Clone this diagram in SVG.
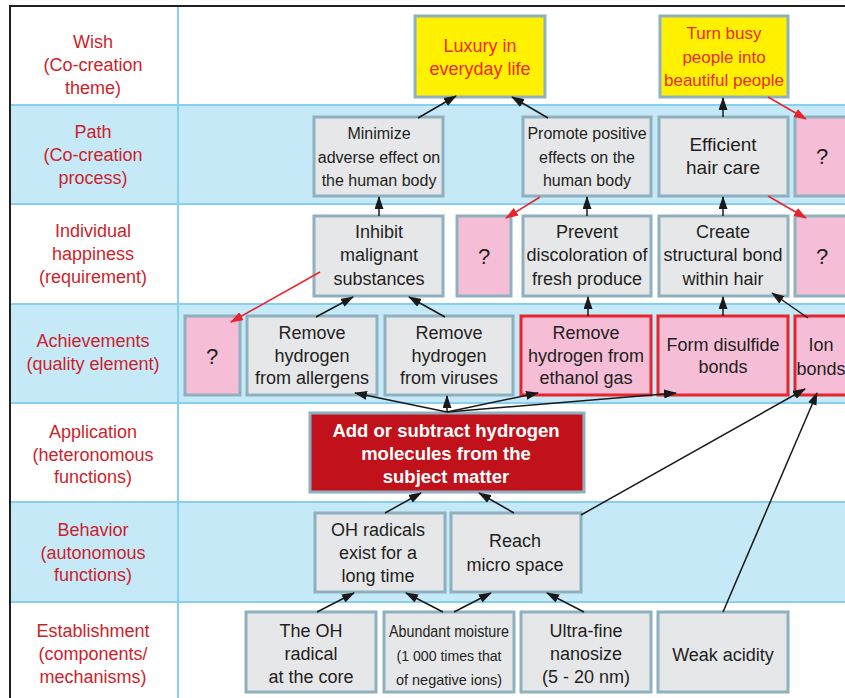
<svg xmlns="http://www.w3.org/2000/svg" width="845" height="698" viewBox="0 0 845 698">
  <defs>
    <marker id="ah" markerUnits="userSpaceOnUse" markerWidth="13" markerHeight="9" refX="12" refY="4.5" orient="auto">
      <path d="M0,0 L13,4.5 L0,9 z" fill="#1a1a1a"/>
    </marker>
    <marker id="ahr" markerUnits="userSpaceOnUse" markerWidth="13" markerHeight="9" refX="12" refY="4.5" orient="auto">
      <path d="M0,0 L13,4.5 L0,9 z" fill="#e8242c"/>
    </marker>
    <style>
      text { font-family: "Liberation Sans", Arial, sans-serif; text-anchor: middle; }
      .lab { font-size: 18px; fill: #cc1f2c; }
      .band { fill: #c6e9f8; }
      .sep { stroke: #86cfef; stroke-width: 2; }
      .n rect { fill: #e6e7e9; stroke: #8fb0bf; stroke-width: 3; }
      .n text { font-size: 18px; fill: #231f20; }
      .n.small text { font-size: 16px; }
      .wish rect { fill: #fff100; stroke: #8fb0bf; stroke-width: 3; }
      .wish text { font-size: 18px; fill: #ee2a24; }
      .wish.s text { font-size: 17px; }
      .q rect { fill: #f6bdd6; stroke: #8fb0bf; stroke-width: 3; }
      .q text { font-size: 22px; fill: #231f20; }
      .hot rect { fill: #f6bdd6; stroke: #e8242c; stroke-width: 3; }
      .hot text { font-size: 18px; fill: #231f20; }
      .core rect { fill: #c1121c; stroke: #8fb0bf; stroke-width: 3; }
      .core text { font-size: 18.5px; font-weight: bold; fill: #ffffff; }
      .c line { stroke: #1a1a1a; stroke-width: 1.5; marker-end: url(#ah); }
      .c line.r { stroke: #e8242c; marker-end: url(#ahr); }
    </style>
  </defs>

  <!-- table background -->
  <rect x="0" y="0" width="845" height="698" fill="#ffffff"/>
  <rect class="band" x="10" y="105" width="835" height="99"/>
  <rect class="band" x="10" y="304" width="835" height="99"/>
  <rect class="band" x="10" y="502" width="835" height="100"/>
  <g id="grid">
    <line class="sep" x1="10" y1="105" x2="845" y2="105"/>
    <line class="sep" x1="10" y1="204" x2="845" y2="204"/>
    <line class="sep" x1="10" y1="304" x2="845" y2="304"/>
    <line class="sep" x1="10" y1="403" x2="845" y2="403"/>
    <line class="sep" x1="10" y1="502" x2="845" y2="502"/>
    <line class="sep" x1="10" y1="602" x2="845" y2="602"/>
    <line class="sep" x1="178" y1="6" x2="178" y2="698"/>
    <line x1="10" y1="6" x2="845" y2="6" stroke="#231f20" stroke-width="2"/>
    <line x1="10" y1="5" x2="10" y2="698" stroke="#231f20" stroke-width="2"/>
  </g>

  <!-- row labels -->
  <g id="labels">
    <text class="lab" x="93" y="48">Wish</text>
    <text class="lab" x="93" y="71">(Co-creation</text>
    <text class="lab" x="93" y="94">theme)</text>
    <text class="lab" x="93" y="138">Path</text>
    <text class="lab" x="93" y="161">(Co-creation</text>
    <text class="lab" x="93" y="184">process)</text>
    <text class="lab" x="93" y="237">Individual</text>
    <text class="lab" x="93" y="260">happiness</text>
    <text class="lab" x="93" y="283">(requirement)</text>
    <text class="lab" x="93" y="347">Achievements</text>
    <text class="lab" x="93" y="370">(quality element)</text>
    <text class="lab" x="93" y="438">Application</text>
    <text class="lab" x="93" y="461">(heteronomous</text>
    <text class="lab" x="93" y="483">functions)</text>
    <text class="lab" x="93" y="536">Behavior</text>
    <text class="lab" x="93" y="559">(autonomous</text>
    <text class="lab" x="93" y="581">functions)</text>
    <text class="lab" x="93" y="637">Establishment</text>
    <text class="lab" x="93" y="660">(components/</text>
    <text class="lab" x="93" y="683">mechanisms)</text>
  </g>

  <!-- wish -->
  <g id="luxury" class="wish"><rect x="415" y="16" width="130" height="81"/>
    <text x="480" y="52">Luxury in</text><text x="480" y="75">everyday life</text></g>
  <g id="busy" class="wish s"><rect x="660" y="16" width="128" height="81"/>
    <text x="724" y="39">Turn busy</text><text x="724" y="63">people into</text><text x="724" y="86">beautiful people</text></g>

  <!-- path -->
  <g id="minimize" class="n small"><rect x="314" y="117" width="129" height="79"/>
    <text x="379" y="139">Minimize</text><text x="379" y="163">adverse effect on</text><text x="379" y="186">the human body</text></g>
  <g id="promote" class="n small"><rect x="523" y="117" width="128" height="79"/>
    <text x="587" y="139">Promote positive</text><text x="587" y="163">effects on the</text><text x="587" y="186">human body</text></g>
  <g id="efficient" class="n"><rect x="659" y="117" width="129" height="79"/>
    <text x="723" y="151" style="font-size:19px">Efficient</text><text x="723" y="174" style="font-size:19px">hair care</text></g>
  <g id="q-path" class="q"><rect x="795" y="117" width="62" height="79"/>
    <text x="822" y="164">?</text></g>

  <!-- individual happiness -->
  <g id="inhibit" class="n"><rect x="314" y="216" width="129" height="80"/>
    <text x="379" y="238">Inhibit</text><text x="379" y="261">malignant</text><text x="379" y="285">substances</text></g>
  <g id="q-ind-1" class="q"><rect x="457" y="216" width="54" height="80"/>
    <text x="484" y="264">?</text></g>
  <g id="prevent" class="n"><rect x="523" y="216" width="128" height="80"/>
    <text x="587" y="238">Prevent</text><text x="587" y="261">discoloration of</text><text x="587" y="285">fresh produce</text></g>
  <g id="create" class="n"><rect x="659" y="216" width="129" height="80"/>
    <text x="723" y="238">Create</text><text x="723" y="261">structural bond</text><text x="723" y="285">within hair</text></g>
  <g id="q-ind-2" class="q"><rect x="795" y="216" width="62" height="80"/>
    <text x="822" y="264">?</text></g>

  <!-- achievements -->
  <g id="q-ach" class="q"><rect x="185" y="316" width="55" height="79"/>
    <text x="212" y="364">?</text></g>
  <g id="allergens" class="n"><rect x="247" y="316" width="130" height="79"/>
    <text x="312" y="339">Remove</text><text x="312" y="362">hydrogen</text><text x="312" y="384">from allergens</text></g>
  <g id="viruses" class="n"><rect x="385" y="316" width="128" height="79"/>
    <text x="449" y="339">Remove</text><text x="449" y="362">hydrogen</text><text x="449" y="384">from viruses</text></g>
  <g id="ethanol" class="hot"><rect x="521" y="316" width="130" height="79"/>
    <text x="586" y="339">Remove</text><text x="586" y="362">hydrogen from</text><text x="586" y="384">ethanol gas</text></g>
  <g id="disulfide" class="hot"><rect x="658" y="316" width="130" height="79"/>
    <text x="723" y="351">Form disulfide</text><text x="723" y="373">bonds</text></g>
  <g id="ion" class="hot"><rect x="795" y="316" width="62" height="79"/>
    <text x="821" y="351">Ion</text><text x="821" y="375">bonds</text></g>

  <!-- application -->
  <g id="add" class="core"><rect x="310" y="413" width="274" height="79"/>
    <text x="446" y="437">Add or subtract hydrogen</text><text x="446" y="460">molecules from the</text><text x="446" y="483">subject matter</text></g>

  <!-- behavior -->
  <g id="ohrad" class="n"><rect x="315" y="513" width="130" height="79"/>
    <text x="378" y="536">OH radicals</text><text x="378" y="559">exist for a</text><text x="378" y="582">long time</text></g>
  <g id="reach" class="n"><rect x="451" y="513" width="130" height="79"/>
    <text x="515" y="547">Reach</text><text x="515" y="571">micro space</text></g>

  <!-- establishment -->
  <g id="ohcore" class="n"><rect x="246" y="612" width="130" height="80"/>
    <text x="311" y="637">The OH</text><text x="311" y="660">radical</text><text x="311" y="683">at the core</text></g>
  <g id="moisture" class="n"><rect x="384" y="612" width="130" height="80"/>
    <text x="449" y="637" style="font-size:16px" textLength="120" lengthAdjust="spacingAndGlyphs">Abundant moisture</text>
    <text x="449" y="661" style="font-size:14.5px" textLength="105" lengthAdjust="spacingAndGlyphs">(1 000 times that</text>
    <text x="449" y="685" style="font-size:14.5px" textLength="106" lengthAdjust="spacingAndGlyphs">of negative ions)</text></g>
  <g id="ultrafine" class="n"><rect x="521" y="612" width="130" height="80"/>
    <text x="586" y="637">Ultra-fine</text><text x="586" y="660">nanosize</text><text x="586" y="683">(5 - 20 nm)</text></g>
  <g id="weak" class="n"><rect x="658" y="612" width="130" height="80"/>
    <text x="723" y="661">Weak acidity</text></g>

  <!-- connectors -->
  <g id="connectors" class="c">
    <line x1="418" y1="118" x2="456" y2="96"/>
    <line x1="548" y1="118" x2="512" y2="97"/>
    <line x1="723" y1="117" x2="723" y2="98"/>
    <line x1="379" y1="216" x2="379" y2="197"/>
    <line x1="587" y1="216" x2="587" y2="197"/>
    <line x1="723" y1="216" x2="723" y2="197"/>
    <line x1="316" y1="317" x2="353" y2="297"/>
    <line x1="445" y1="317" x2="409" y2="297"/>
    <line x1="588" y1="316" x2="588" y2="297"/>
    <line x1="723" y1="316" x2="723" y2="297"/>
    <line x1="808" y1="318" x2="772" y2="293"/>
    <line x1="447" y1="412" x2="355" y2="393"/>
    <line x1="447" y1="412" x2="447" y2="396"/>
    <line x1="447" y1="412" x2="538" y2="393"/>
    <line x1="447" y1="412" x2="676" y2="393"/>
    <line x1="385" y1="513" x2="421" y2="493"/>
    <line x1="514" y1="513" x2="479" y2="493"/>
    <line x1="317" y1="612" x2="354" y2="593"/>
    <line x1="443" y1="612" x2="406" y2="593"/>
    <line x1="454" y1="612" x2="491" y2="593"/>
    <line x1="584" y1="612" x2="547" y2="593"/>
    <line x1="581" y1="515" x2="805" y2="389"/>
    <line x1="723" y1="612" x2="817" y2="393"/>
    <line class="r" x1="768" y1="97" x2="806" y2="119"/>
    <line class="r" x1="768" y1="196" x2="806" y2="218"/>
    <line class="r" x1="540" y1="197" x2="506" y2="218"/>
    <line class="r" x1="320" y1="272" x2="231" y2="322"/>
  </g>
</svg>
